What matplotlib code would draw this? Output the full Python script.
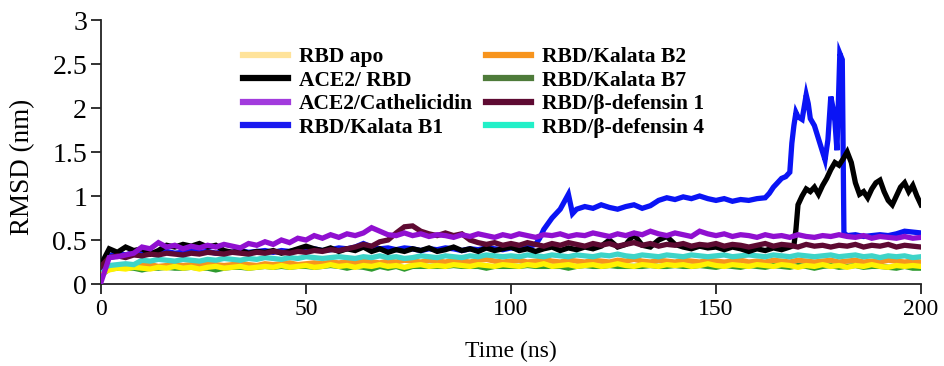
import matplotlib
matplotlib.use("Agg")
import matplotlib.pyplot as plt
from matplotlib.lines import Line2D

# ---------------- data ----------------
t2 = list(range(0, 201, 2))  # common 2 ns grid

rbd_apo = [0.12,0.16,0.18,0.17,0.19,0.18,0.17,0.19,0.18,0.2,
           0.18,0.19,0.17,0.19,0.2,0.18,0.19,0.2,0.18,0.19,
           0.2,0.19,0.21,0.19,0.2,0.21,0.19,0.2,0.22,0.2,
           0.21,0.19,0.21,0.2,0.22,0.2,0.21,0.19,0.21,0.22,
           0.2,0.21,0.2,0.22,0.21,0.2,0.22,0.21,0.2,0.22,
           0.21,0.2,0.22,0.21,0.23,0.2,0.21,0.22,0.2,0.21,
           0.22,0.2,0.21,0.23,0.21,0.2,0.22,0.21,0.2,0.22,
           0.21,0.22,0.2,0.21,0.23,0.21,0.2,0.22,0.21,0.2,
           0.22,0.21,0.2,0.22,0.21,0.19,0.21,0.2,0.22,0.2,
           0.21,0.19,0.21,0.2,0.22,0.2,0.19,0.21,0.2,0.21,
           0.2]

kalata_b7 = [0.1,0.17,0.18,0.18,0.18,0.16,0.18,0.18,0.19,0.18,
             0.18,0.19,0.18,0.18,0.16,0.18,0.19,0.19,0.18,0.19,
             0.2,0.19,0.2,0.19,0.2,0.2,0.19,0.2,0.21,0.2,
             0.18,0.2,0.19,0.17,0.2,0.18,0.2,0.17,0.2,0.2,
             0.2,0.2,0.2,0.21,0.2,0.2,0.2,0.18,0.2,0.2,
             0.2,0.2,0.21,0.2,0.2,0.2,0.2,0.18,0.2,0.21,
             0.2,0.2,0.21,0.2,0.2,0.2,0.2,0.21,0.2,0.2,
             0.21,0.2,0.2,0.21,0.2,0.19,0.21,0.2,0.19,0.21,
             0.2,0.19,0.21,0.2,0.19,0.21,0.2,0.18,0.2,0.21,
             0.19,0.2,0.21,0.19,0.2,0.2,0.19,0.18,0.2,0.18,
             0.18]

kalata_b2 = [0.15,0.2,0.21,0.2,0.22,0.21,0.22,0.2,0.21,0.22,
             0.21,0.22,0.21,0.23,0.22,0.21,0.22,0.23,0.22,0.21,
             0.23,0.22,0.23,0.24,0.22,0.23,0.24,0.23,0.25,0.24,
             0.25,0.24,0.26,0.25,0.24,0.26,0.25,0.27,0.26,0.25,
             0.27,0.26,0.25,0.27,0.26,0.25,0.27,0.28,0.26,0.25,
             0.26,0.27,0.25,0.26,0.28,0.26,0.25,0.27,0.26,0.25,
             0.27,0.26,0.25,0.27,0.26,0.28,0.26,0.25,0.27,0.26,
             0.25,0.27,0.26,0.25,0.27,0.26,0.25,0.26,0.27,0.25,
             0.26,0.25,0.27,0.26,0.25,0.27,0.26,0.25,0.26,0.27,
             0.25,0.26,0.27,0.25,0.26,0.25,0.27,0.26,0.25,0.26,
             0.25]

defensin4 = [0.17,0.21,0.22,0.23,0.22,0.27,0.26,0.28,0.27,0.26,
             0.28,0.27,0.26,0.28,0.27,0.29,0.28,0.27,0.29,0.28,
             0.3,0.29,0.28,0.3,0.29,0.31,0.3,0.29,0.3,0.31,
             0.3,0.29,0.31,0.3,0.32,0.3,0.31,0.29,0.3,0.32,
             0.31,0.3,0.32,0.31,0.3,0.32,0.31,0.33,0.32,0.31,
             0.32,0.31,0.33,0.32,0.31,0.33,0.32,0.31,0.33,0.32,
             0.31,0.33,0.32,0.34,0.32,0.31,0.33,0.32,0.31,0.33,
             0.32,0.31,0.33,0.32,0.31,0.32,0.33,0.31,0.32,0.33,
             0.32,0.31,0.33,0.32,0.31,0.33,0.32,0.31,0.32,0.33,
             0.31,0.32,0.33,0.31,0.32,0.3,0.32,0.31,0.32,0.3,
             0.31]

defensin1 = [0.2,0.3,0.32,0.3,0.33,0.32,0.34,0.33,0.35,0.34,
             0.33,0.35,0.34,0.36,0.35,0.34,0.36,0.35,0.34,0.36,
             0.35,0.37,0.36,0.35,0.37,0.36,0.38,0.37,0.39,0.38,
             0.4,0.42,0.45,0.43,0.48,0.5,0.58,0.65,0.66,0.6,
             0.57,0.55,0.58,0.55,0.57,0.5,0.47,0.45,0.47,0.44,
             0.46,0.44,0.47,0.45,0.43,0.46,0.44,0.47,0.45,0.43,
             0.46,0.44,0.46,0.43,0.45,0.47,0.44,0.46,0.43,0.45,
             0.44,0.46,0.43,0.45,0.44,0.46,0.43,0.45,0.44,0.42,
             0.44,0.46,0.43,0.45,0.44,0.42,0.45,0.43,0.44,0.42,
             0.44,0.43,0.45,0.42,0.44,0.43,0.45,0.42,0.44,0.43,
             0.42]

cathelicidin = [0.02,0.3,0.31,0.33,0.35,0.42,0.4,0.47,0.42,0.44,
                0.4,0.43,0.41,0.44,0.42,0.45,0.43,0.41,0.46,0.44,
                0.48,0.45,0.5,0.47,0.52,0.5,0.55,0.52,0.56,0.53,
                0.57,0.55,0.58,0.64,0.6,0.56,0.55,0.58,0.55,0.57,
                0.54,0.56,0.55,0.53,0.56,0.54,0.57,0.55,0.53,0.56,
                0.54,0.57,0.55,0.53,0.56,0.55,0.57,0.54,0.56,0.55,
                0.58,0.56,0.54,0.57,0.55,0.58,0.56,0.6,0.57,0.55,
                0.58,0.56,0.54,0.6,0.57,0.55,0.57,0.54,0.56,0.55,
                0.53,0.56,0.54,0.55,0.53,0.56,0.54,0.53,0.55,0.54,
                0.56,0.54,0.53,0.55,0.52,0.54,0.53,0.52,0.54,0.52,
                0.53]

ace2_rbd_time = list(range(0, 169, 2)) + [169, 169.5, 170] + list(range(171, 201))
ace2_rbd = [0.22,0.4,0.36,0.42,0.38,0.4,0.34,0.38,0.44,0.42,
            0.45,0.43,0.46,0.42,0.44,0.38,0.36,0.38,0.35,0.37,
            0.36,0.38,0.35,0.37,0.4,0.43,0.4,0.38,0.41,0.37,
            0.4,0.38,0.42,0.37,0.4,0.36,0.39,0.37,0.4,0.38,
            0.41,0.37,0.39,0.42,0.38,0.4,0.37,0.41,0.38,0.4,
            0.42,0.38,0.4,0.37,0.4,0.42,0.38,0.41,0.39,0.42,
            0.4,0.43,0.5,0.42,0.45,0.56,0.44,0.42,0.5,0.54,
            0.45,0.42,0.4,0.43,0.41,0.42,0.39,0.42,0.4,0.37,
            0.4,0.38,0.41,0.39,0.42,
            0.44,0.62,0.9,
            1.0,1.08,1.05,1.1,1.02,1.12,1.2,1.3,1.38,1.35,
            1.42,1.5,1.38,1.15,1.02,1.05,0.98,1.08,1.15,1.18,
            1.05,0.95,0.9,1.0,1.1,1.15,1.05,1.12,1.0,0.9]

kalata_b1_time = (list(range(0, 107, 2)) +
                  [107, 108, 110, 112, 114, 115] + list(range(116, 163, 2)) +
                  [163, 164, 165, 166, 167, 168, 168.5, 169, 169.5, 170, 171, 172,
                   172.5, 173, 174, 175, 176, 176.6, 177.3, 178, 178.5, 179, 179.5,
                   180.2, 180.8, 181.2] + list(range(182, 201, 2)))
kalata_b1 = [0.2,0.32,0.35,0.33,0.36,0.34,0.36,0.35,0.37,0.35,
             0.36,0.38,0.36,0.37,0.35,0.37,0.36,0.38,0.36,0.37,
             0.38,0.36,0.38,0.37,0.39,0.38,0.4,0.38,0.39,0.41,
             0.4,0.42,0.46,0.42,0.4,0.41,0.39,0.41,0.4,0.38,
             0.4,0.39,0.41,0.4,0.38,0.4,0.39,0.41,0.4,0.39,
             0.41,0.4,0.42,0.45,
             0.52,0.62,0.75,0.85,1.02,0.8,
             0.85,0.88,0.86,0.9,0.87,0.85,0.88,0.9,0.86,0.89,
             0.95,0.98,0.96,0.99,0.97,1.0,0.97,0.95,0.97,0.94,
             0.96,0.95,0.97,0.98,
             1.03,1.1,1.15,1.2,1.22,1.27,1.6,1.8,1.95,1.9,1.87,2.15,
             2.05,1.88,1.8,1.65,1.5,1.41,1.64,2.13,2.01,1.85,1.52,
             2.62,2.55,0.58,
             0.55,0.56,0.54,0.55,0.56,0.55,0.57,0.6,0.59,0.58]

labels = ["RBD apo", "ACE2/ RBD", "ACE2/Cathelicidin", "RBD/Kalata B1",
          "RBD/Kalata B2", "RBD/Kalata B7", "RBD/\u03b2-defensin 1", "RBD/\u03b2-defensin 4"]
x_ticks = [0, 50, 100, 150, 200]
y_ticks = [0, 0.5, 1, 1.5, 2, 2.5, 3]
y_tick_labels = ["0", "0.5", "1", "1.5", "2", "2.5", "3"]

# ---------------- styling ----------------
line_colors = {
    "RBD apo": "#FFF200",
    "ACE2/ RBD": "#000000",
    "ACE2/Cathelicidin": "#9010D0",
    "RBD/Kalata B1": "#0A14F5",
    "RBD/Kalata B2": "#F7941D",
    "RBD/Kalata B7": "#2E9A2E",
    "RBD/\u03b2-defensin 1": "#5E0A32",
    "RBD/\u03b2-defensin 4": "#3ED4C8",
}
legend_colors = {
    "RBD apo": "#FFE39A",
    "ACE2/ RBD": "#000000",
    "ACE2/Cathelicidin": "#A23BDD",
    "RBD/Kalata B1": "#1A1AF0",
    "RBD/Kalata B2": "#F7941D",
    "RBD/Kalata B7": "#4E7B3A",
    "RBD/\u03b2-defensin 1": "#5E0A32",
    "RBD/\u03b2-defensin 4": "#22F0C8",
}

serif = ["Liberation Serif", "DejaVu Serif"]
plt.rcParams["font.family"] = serif

fig = plt.figure(figsize=(9.45, 3.66), dpi=100)
ax = fig.add_axes([101/945, 1-284/366, (921-101)/945, (284-20)/366])

lw = 3.8
series = [
    (t2, kalata_b7, "RBD/Kalata B7"),
    (t2, kalata_b2, "RBD/Kalata B2"),
    (t2, rbd_apo, "RBD apo"),
    (t2, defensin4, "RBD/\u03b2-defensin 4"),
    (kalata_b1_time, kalata_b1, "RBD/Kalata B1"),
    (ace2_rbd_time, ace2_rbd, "ACE2/ RBD"),
    (t2, defensin1, "RBD/\u03b2-defensin 1"),
    (t2, cathelicidin, "ACE2/Cathelicidin"),
]
for i, (tx, ty, name) in enumerate(series):
    ax.plot(tx, ty, color=line_colors[name], lw=lw, solid_joinstyle="miter", zorder=2+i)

ax.set_xlim(0, 200)
ax.set_ylim(0, 3)
ax.set_xticks(x_ticks)
ax.set_yticks(y_ticks)
ax.set_yticklabels(y_tick_labels)
for s in ["top", "right"]:
    ax.spines[s].set_visible(False)
for s in ["left", "bottom"]:
    ax.spines[s].set_linewidth(1.3)
    ax.spines[s].set_color("#222222")
ax.tick_params(axis="both", direction="out", length=7, width=1.3, color="#222222")
ax.tick_params(axis="x", labelsize=17, pad=4)
ax.tick_params(axis="y", labelsize=20, pad=3)
ax.set_xlabel("Time (ns)", fontsize=17)
ax.xaxis.set_label_coords(0.5, -(341-284)/264, transform=ax.transAxes)
ax.set_ylabel("RMSD (nm)", fontsize=19.5)
ax.yaxis.set_label_coords(-(101-35)/820, (284-167)/264, transform=ax.transAxes)

handles = [Line2D([], [], color=legend_colors[n], lw=4.5) for n in labels]
leg = fig.legend(handles, labels, ncol=2, loc="upper left",
                 bbox_to_anchor=(243/945, 1-47/366), frameon=False,
                 prop={"family": serif, "weight": "bold", "size": 15.5},
                 handlelength=2.1, handletextpad=0.5, columnspacing=0.6,
                 labelspacing=0.16, borderpad=0, borderaxespad=0)

fig.savefig("out.png", dpi=100)
